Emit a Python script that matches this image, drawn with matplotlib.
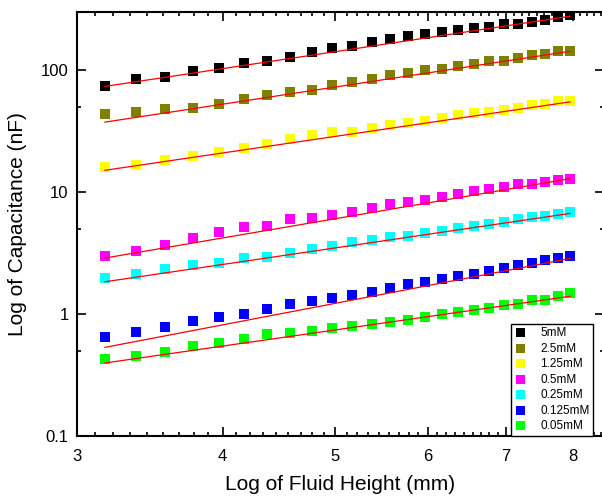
import numpy as np
import matplotlib
matplotlib.use('Agg')
import matplotlib.pyplot as plt
from matplotlib.ticker import FixedLocator, NullFormatter

plt.rcParams['font.family'] = ['Liberation Sans', 'DejaVu Sans']

# fluid height (mm), same for every series
height = [3.17, 3.37, 3.57, 3.77, 3.97, 4.17, 4.37, 4.57, 4.77, 4.97, 5.17, 5.37, 5.57,
          5.77, 5.97, 6.17, 6.37, 6.57, 6.77, 6.97, 7.17, 7.37, 7.57, 7.76, 7.95]

c_5mM = [74, 84, 88, 98.5, 104, 115, 118, 128, 140, 151, 158, 169, 180,
         190, 197, 205, 214, 220, 226, 237, 237, 249, 260, 274, 281]
c_2_5mM = [43.6, 45.3, 47.9, 49.4, 52.9, 57.8, 62.4, 66, 69.2, 75, 80.7, 85.4, 90.5,
           95, 99.5, 103, 108, 113, 118.5, 120, 126, 133, 136, 143, 143]
c_1_25mM = [16.1, 16.7, 18.3, 19.9, 21.4, 22.9, 24.7, 27.2, 29.3, 31.2, 31.3, 33.7, 35.6,
            36.6, 38.4, 40.6, 42.5, 44.2, 45, 47, 49.1, 51.4, 52.6, 55.4, 55.7]
c_0_5mM = [3.0, 3.30, 3.70, 4.20, 4.73, 5.14, 5.29, 5.97, 6.12, 6.51, 6.90, 7.44, 7.93,
           8.24, 8.65, 9.05, 9.58, 10.2, 10.6, 11.0, 11.7, 11.6, 12.1, 12.5, 12.9]
c_0_25mM = [1.98, 2.13, 2.32, 2.51, 2.63, 2.86, 2.95, 3.18, 3.44, 3.61, 3.91, 4.04, 4.28,
            4.38, 4.59, 4.79, 5.07, 5.29, 5.46, 5.71, 5.97, 6.24, 6.36, 6.60, 6.82]
c_0_125mM = [0.648, 0.708, 0.787, 0.871, 0.950, 1.01, 1.10, 1.20, 1.28, 1.36, 1.44, 1.53, 1.64,
             1.75, 1.83, 1.94, 2.05, 2.14, 2.25, 2.40, 2.51, 2.62, 2.77, 2.89, 3.00]
c_0_05mM = [0.428, 0.453, 0.485, 0.549, 0.582, 0.628, 0.682, 0.699, 0.726, 0.764, 0.797, 0.828, 0.855,
            0.893, 0.951, 1.01, 1.04, 1.08, 1.13, 1.19, 1.20, 1.31, 1.31, 1.41, 1.48]

# fitted power-law lines: value at first and last height
fit_start = [73.6, 37.5, 15.1, 2.88, 1.84, 0.533, 0.397]
fit_end = [277, 143, 55.0, 12.9, 6.69, 2.86, 1.40]

labels = ['5mM', '2.5mM', '1.25mM', '0.5mM', '0.25mM', '0.125mM', '0.05mM']
series = [c_5mM, c_2_5mM, c_1_25mM, c_0_5mM, c_0_25mM, c_0_125mM, c_0_05mM]
colors = ['#000000', '#808000', '#FFFF00', '#FF00FF', '#00FFFF', '#0000FF', '#00FF00']

fig = plt.figure(figsize=(6.02, 4.98), dpi=100)
ax = fig.add_axes([77/602, 62/498, 527/602, 424/498])

x = np.array(height)
for i in range(len(series)):
    ax.plot(x, series[i], 's', color=colors[i], markersize=7.2, markeredgewidth=0,
            label=labels[i], zorder=2)
    # straight line on log-log axes
    ax.plot([height[0], height[-1]], [fit_start[i], fit_end[i]], '-', color='#FF0000',
            lw=0.9, zorder=3)

ax.set_xscale('log')
ax.set_yscale('log')
ax.set_xlim(3, 8.5)
ax.set_ylim(0.1, 300)

major_x = [3, 4, 5, 6, 7, 8]
minor_x = [n + i / 9 for n in range(3, 9) for i in range(1, 9)]
ax.xaxis.set_major_locator(FixedLocator(major_x))
ax.xaxis.set_minor_locator(FixedLocator(minor_x))
ax.set_xticklabels([str(v) for v in major_x])
ax.xaxis.set_minor_formatter(NullFormatter())

ax.yaxis.set_major_locator(FixedLocator([0.1, 1, 10, 100]))
ax.yaxis.set_minor_locator(FixedLocator([0.5, 5, 50]))
ax.set_yticklabels(['0.1', '1', '10', '100'])
ax.yaxis.set_minor_formatter(NullFormatter())

ax.tick_params(which='both', direction='in', top=True, right=True, width=1.2, labelsize=12)
ax.tick_params(which='major', length=6.5)
ax.tick_params(which='minor', length=3.2)
ax.tick_params(axis='x', which='major', pad=9)
ax.tick_params(axis='y', which='major', pad=6)
for s in ax.spines.values():
    s.set_linewidth(1.5)

ax.set_xlabel('Log of Fluid Height (mm)', fontsize=15, labelpad=8)
ax.set_ylabel('Log of Capacitance (nF)', fontsize=15, labelpad=10)

leg = ax.legend(loc='lower right', bbox_to_anchor=(0.979, 0.0), borderaxespad=0,
                fontsize=8.5, frameon=True, fancybox=False, framealpha=1,
                edgecolor='black', handlelength=1.0, handletextpad=1.2,
                labelspacing=0.3, borderpad=0.3, markerscale=0.9)
leg.get_frame().set_linewidth(1.0)

fig.savefig('out.png', dpi=100)
